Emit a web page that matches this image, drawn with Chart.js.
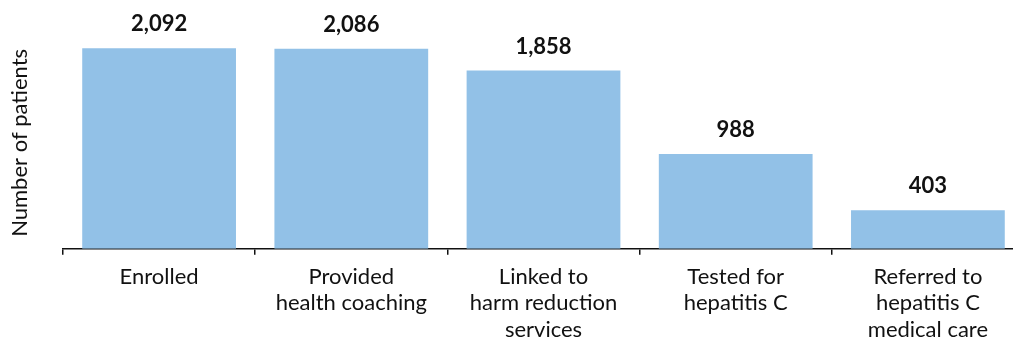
<!DOCTYPE html>
<html>
<head>
<meta charset="utf-8">
<script src="https://cdn.jsdelivr.net/npm/chart.js@4"></script>
<style>
  html, body { margin: 0; padding: 0; background: #fff; overflow: hidden; }
  #wrap { width: 1024px; height: 352px; }
</style>
</head>
<body>
<div id="wrap"><canvas id="funnel"></canvas></div>
<script>
const categories = [
  'Enrolled',
  ['Provided', 'health coaching'],
  ['Linked to', 'harm reduction', 'services'],
  ['Tested for', 'hepatitis C'],
  ['Referred to', 'hepatitis C', 'medical care']
];
const patients = [2092, 2086, 1858, 988, 403];
const yTitle = 'Number of patients';

// value labels above each bar, plus the y title (sits a bit below the plot centre)
const valueLabels = {
  id: 'valueLabels',
  afterDatasetsDraw(chart) {
    const ctx = chart.ctx;
    const meta = chart.getDatasetMeta(0);
    ctx.save();
    ctx.font = 'bold 22px Lato';
    ctx.fillStyle = '#111';
    ctx.textAlign = 'center';
    ctx.textBaseline = 'alphabetic';
    meta.data.forEach((bar, i) => {
      ctx.fillText(patients[i].toLocaleString('en-US'), bar.x, bar.y - 17);
    });
    const area = chart.chartArea;
    ctx.font = '22px Lato';
    ctx.textBaseline = 'middle';
    ctx.translate(area.left - 43, (area.top + area.bottom) / 2 + 14);
    ctx.rotate(-Math.PI / 2);
    ctx.fillText(yTitle, 0, 0);
    ctx.restore();
  }
};

Chart.defaults.font.family = 'Lato';
Chart.defaults.color = '#111';

new Chart(document.getElementById('funnel'), {
  type: 'bar',
  data: {
    labels: categories,
    datasets: [{
      data: patients,
      backgroundColor: '#92c1e7',
      barPercentage: 0.8,
      categoryPercentage: 1.0
    }]
  },
  options: {
    responsive: true,
    maintainAspectRatio: false,
    animation: false,
    layout: { padding: { top: 9, left: 63, right: 0, bottom: 0 } },
    plugins: { legend: { display: false }, tooltip: { enabled: false } },
    scales: {
      x: {
        grid: { drawOnChartArea: false, drawTicks: true, tickLength: 6, color: '#111', lineWidth: 1.5 },
        border: { color: '#111', width: 1.5 },
        ticks: { font: { size: 22, lineHeight: 1.2 }, padding: 9, maxRotation: 0, autoSkip: false }
      },
      y: {
        display: false,
        min: 0,
        max: 2500
      }
    }
  },
  plugins: [valueLabels]
});
</script>
</body>
</html>
